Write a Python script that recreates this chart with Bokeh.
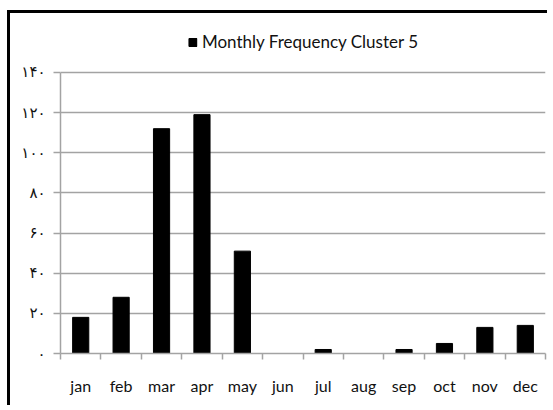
from bokeh.plotting import figure
from bokeh.models import (Range1d, LinearAxis, FixedTicker, Legend, LegendItem,
                          ColumnDataSource)
from bokeh.embed import file_html
from bokeh.resources import INLINE

# ---- data ----
months = ["jan", "feb", "mar", "apr", "may", "jun",
          "jul", "aug", "sep", "oct", "nov", "dec"]
counts = [18, 28, 112, 119, 51, 0, 2, 0, 2, 5, 13, 14]
series_name = "Monthly Frequency Cluster 5"
y_ticks = [0, 20, 40, 60, 80, 100, 120, 140]
y_tick_labels = ["۰", "۲۰", "۴۰", "۶۰", "۸۰", "۱۰۰", "۱۲۰", "۱۴۰"]

# category slots: centre of slot i is i + 0.5, slot edges are integers
centers = [i + 0.5 for i in range(len(months))]
edges = list(range(len(months) + 1))

GRID = "#a3a3a3"
FONT = "Lato"

source = ColumnDataSource(data=dict(x=centers, month=months, count=counts))

p = figure(width=540, height=395,
           x_range=Range1d(0, len(months)),
           y_range=Range1d(0, 163.4),
           output_backend="svg", toolbar_location=None,
           x_axis_location=None, y_axis_location=None,
           min_border_left=50, min_border_right=5,
           min_border_top=12, min_border_bottom=55)
p.outline_line_color = None
p.background_fill_color = "white"
p.border_fill_color = "white"
p.styles = {"border-left": "3px solid black", "border-top": "3px solid black",
            "margin-left": "7px", "margin-top": "10px"}

r = p.vbar(x="x", top="count", width=0.4, source=source,
           fill_color="black", line_color="black")

# y axis
yax = LinearAxis(ticker=FixedTicker(ticks=y_ticks), bounds=(0, 140))
yax.major_label_overrides = {t: l for t, l in zip(y_ticks, y_tick_labels)}
yax.axis_line_color = GRID
yax.axis_line_width = 1.5
yax.major_tick_line_color = GRID
yax.major_tick_line_width = 1.5
yax.major_tick_in = 0
yax.major_tick_out = 7
yax.minor_tick_line_color = None
yax.major_label_standoff = 8
yax.major_label_text_font = "DejaVu Sans"
yax.major_label_text_font_size = "15px"
yax.major_label_text_color = "#111111"
p.add_layout(yax, "left")

p.ygrid.ticker = FixedTicker(ticks=y_ticks)
p.ygrid.grid_line_color = GRID
p.ygrid.grid_line_width = 1.5
p.xgrid.grid_line_color = None

# x axis: tick marks between categories
xedge = LinearAxis(ticker=FixedTicker(ticks=edges))
xedge.major_label_text_color = None
xedge.major_label_text_font_size = "4px"
xedge.major_label_standoff = 0
xedge.axis_line_color = GRID
xedge.axis_line_width = 1.5
xedge.major_tick_line_color = GRID
xedge.major_tick_line_width = 1.5
xedge.major_tick_in = 0
xedge.major_tick_out = 6
xedge.minor_tick_line_color = None
p.add_layout(xedge, "below")

# x axis: month labels at slot centres
xcat = LinearAxis(ticker=FixedTicker(ticks=centers))
xcat.major_label_overrides = {c: m for c, m in zip(centers, months)}
xcat.axis_line_color = None
xcat.major_tick_line_color = None
xcat.minor_tick_line_color = None
xcat.major_label_standoff = 10
xcat.major_label_text_font = FONT
xcat.major_label_text_font_size = "16px"
xcat.major_label_text_color = "#111111"
p.add_layout(xcat, "below")

legend = Legend(items=[LegendItem(label=series_name, renderers=[r])],
                orientation="horizontal", location="top_center")
legend.glyph_width = 10
legend.glyph_height = 10
legend.label_text_font = FONT
legend.label_text_font_size = "17px"
legend.label_text_color = "#111111"
legend.label_standoff = 5
legend.border_line_color = None
legend.background_fill_alpha = 0
legend.padding = 0
legend.margin = 6
p.add_layout(legend)

open("out.html", "w").write(file_html(p, INLINE))
